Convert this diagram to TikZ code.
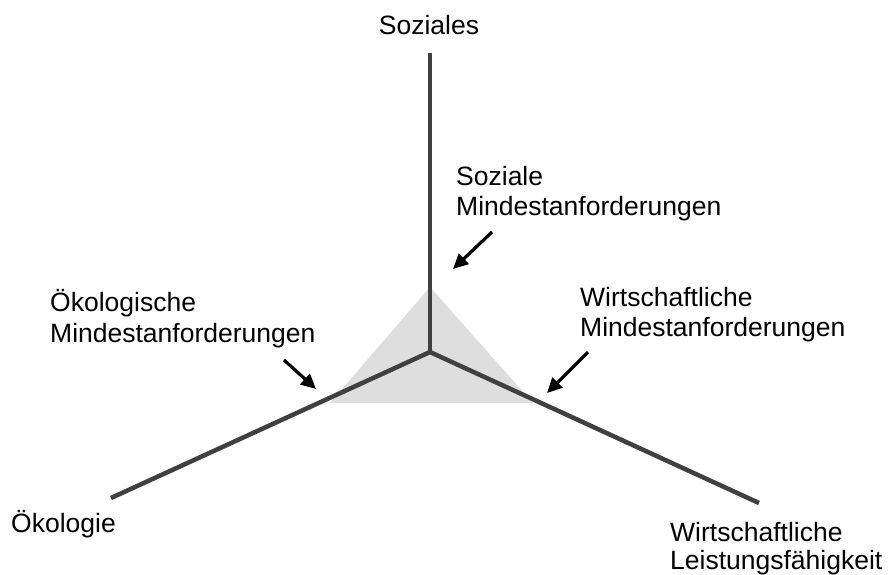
\documentclass[tikz,border=0pt]{standalone}
\usepackage{fontspec}
\setmainfont{Liberation Sans}
\usetikzlibrary{arrows.meta}
\definecolor{axisgray}{HTML}{404040}
\definecolor{fillgray}{HTML}{DEDEDE}
\tikzset{
  axis/.style={draw=axisgray, line width=4.5pt},
  pointer/.style={draw=black, line width=3.2pt, -{Triangle[length=15pt,width=14pt]}},
  lbl/.style={anchor=base west, inner sep=0pt, font=\fontsize{26.5}{30}\selectfont},
}
\begin{document}
\begin{tikzpicture}[x=1pt,y=-1pt]
\useasboundingbox (0,0) rectangle (888,574);
\fill[white] (0,0) rectangle (888,574);
% shaded triangle
\coordinate (tA) at (430,287);
\coordinate (tB) at (330,403);
\coordinate (tC) at (533,403);
\fill[fillgray] (tA) -- (tB) -- (tC) -- cycle;
% axes
\coordinate (c) at (430,352);
\coordinate (top) at (430,53);
\coordinate (left) at (111,498);
\coordinate (right) at (759,503);
\draw[axis] (c) -- (top);
\draw[axis] (c) -- (left);
\draw[axis] (c) -- (right);
% pointers
\coordinate (p1s) at (492,232);
\coordinate (p1e) at (453,269);
\coordinate (p2s) at (284,360);
\coordinate (p2e) at (316,389);
\coordinate (p3s) at (588,352);
\coordinate (p3e) at (547,393);
\draw[pointer] (p1s) -- (p1e);
\draw[pointer] (p2s) -- (p2e);
\draw[pointer] (p3s) -- (p3e);
% labels
\node[lbl, anchor=base] (soz) at (429,34) {Soziales};
\node[lbl] (sm1) at (456,185) {Soziale};
\node[lbl] (sm2) at (456,215) {Mindestanforderungen};
\node[lbl] (om1) at (50,311) {Ökologische};
\node[lbl] (om2) at (50,342) {Mindestanforderungen};
\node[lbl] (wm1) at (580,306) {Wirtschaftliche};
\node[lbl] (wm2) at (580,336) {Mindestanforderungen};
\node[lbl] (oek) at (11,532) {Ökologie};
\node[lbl] (wl1) at (670,541) {Wirtschaftliche};
\node[lbl] (wl2) at (670,569) {Leistungsfähigkeit};
\end{tikzpicture}
\end{document}
